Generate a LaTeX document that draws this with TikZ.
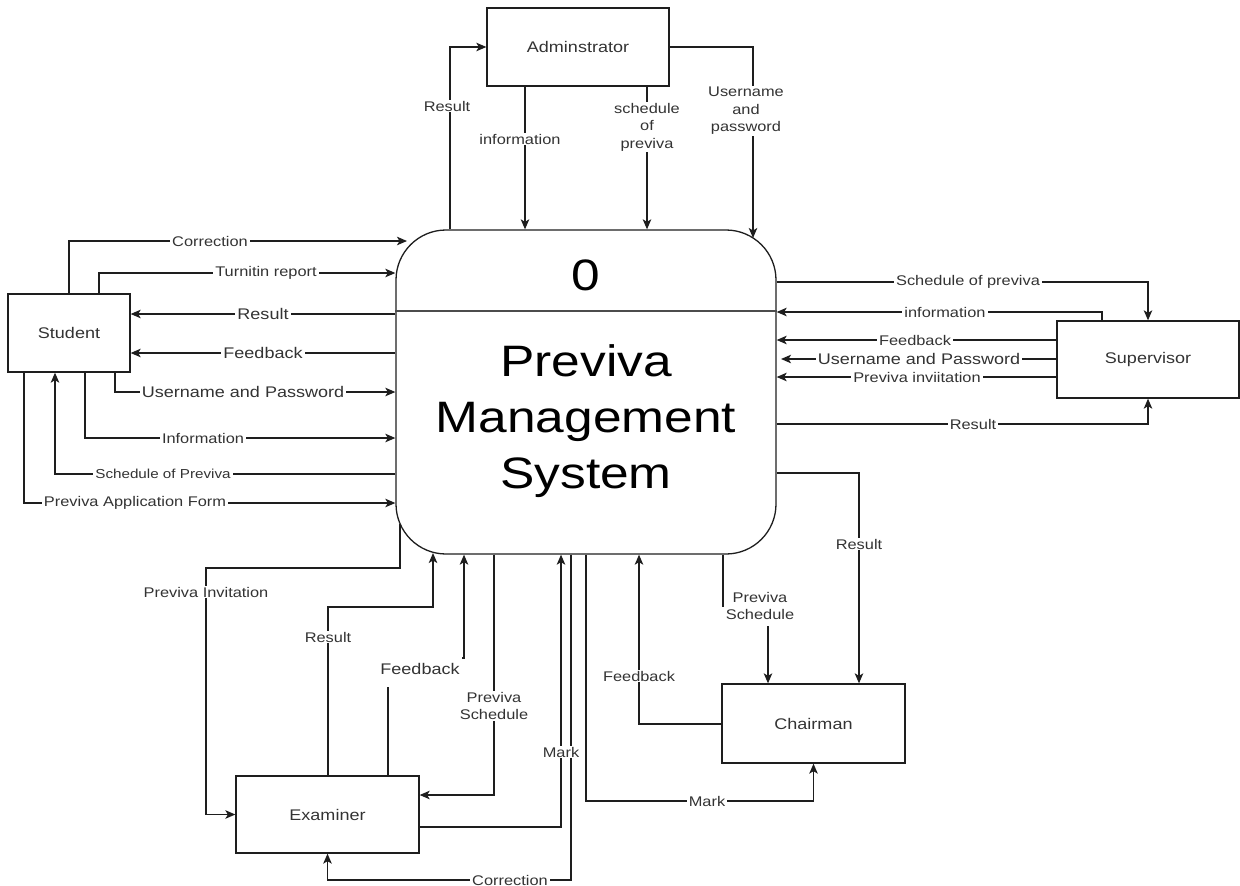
\documentclass[tikz,border=0pt]{standalone}
\usepackage{fontspec}
\setmainfont{Liberation Sans}[FakeStretch=1.17]
\usetikzlibrary{arrows.meta}
\definecolor{ink}{HTML}{1E1E1E}
\definecolor{txt}{HTML}{333333}
\tikzset{
  entity/.style={draw=ink, line width=1.3pt, text=txt, inner sep=0pt,
    font=\fontsize{15.4}{18}\selectfont},
  flow/.style={draw=ink, line width=1.3pt,
    -{Stealth[length=10pt,width=8.5pt,inset=2.5pt]}},
  lab/.style={fill=white, inner xsep=2pt, inner ysep=1pt, text=txt,
    align=center, font=\fontsize{14}{17.5}\selectfont},
  labbig/.style={lab, font=\fontsize{15.4}{18}\selectfont},
  labsmall/.style={lab, font=\fontsize{13}{15}\selectfont},
}
\begin{document}
\begin{tikzpicture}[x=1pt, y=-1pt]
\useasboundingbox (0,0) rectangle (1240,886);

% --- process and external entities ---
\node[draw=ink, line width=1.3pt, rounded corners=50pt,
      minimum width=380pt, minimum height=324pt] (sys) at (586,392) {};
\draw[draw=black!70, line width=1.3pt] (sys.west |- 0,311) -- (sys.east |- 0,311);
\node[anchor=base, font=\fontsize{44}{56}\selectfont] (num) at (586,290) {0};
\node[align=center, font=\fontsize{44}{56}\selectfont] (title) at (586,421)
  {Previva\\Management\\System};

\node[entity, minimum width=182pt, minimum height=78pt] (adm) at (578,47) {Adminstrator};
\node[entity, minimum width=122pt, minimum height=78pt] (stu) at (69,333) {Student};
\node[entity, minimum width=182pt, minimum height=77pt] (sup) at (1148,359.5) {Supervisor};
\node[entity, minimum width=183pt, minimum height=77pt] (exa) at (327.5,814.5) {Examiner};
\node[entity, minimum width=183pt, minimum height=79pt] (cha) at (813.5,723.5) {Chairman};

% --- administrator flows ---
\draw[flow] (450,0 |- sys.north) |- (adm.west);
\draw[flow] (525,0 |- adm.south) -- (525,0 |- sys.north);
\draw[flow] (647,0 |- adm.south) -- (647,0 |- sys.north);
\draw[flow] (adm.east) -| (753,238);

% --- student flows ---
\draw[flow] (69,0 |- stu.north) |- (407,241);
\draw[flow] (99,0 |- stu.north) |- (sys.west |- 0,273);
\draw[flow] (sys.west |- 0,314) -- (stu.east |- 0,314);
\draw[flow] (sys.west |- 0,353) -- (stu.east |- 0,353);
\draw[flow] (115,0 |- stu.south) |- (sys.west |- 0,392);
\draw[flow] (85,0 |- stu.south) |- (sys.west |- 0,438);
\draw[flow] (sys.west |- 0,474) -| (55,0 |- stu.south);
\draw[flow] (24,0 |- stu.south) |- (sys.west |- 0,503);

% --- supervisor flows ---
\draw[flow] (sys.east |- 0,282) -| (sup.north);
\draw[flow] (1102,0 |- sup.north) |- (sys.east |- 0,312);
\draw[flow] (sup.west |- 0,340) -- (sys.east |- 0,340);
\draw[flow] (sup.west |- 0,359) -- (781,359);
\draw[flow] (sup.west |- 0,377) -- (sys.east |- 0,377);
\draw[flow] (sys.east |- 0,424) -| (sup.south);

% --- examiner flows ---
\draw[flow] (400,524) |- (206,568) |- (exa.west);
\draw[flow] (328,0 |- exa.north) |- (433,607) -- (433,553);
\draw[flow] (388,0 |- exa.north) |- (464,658) -- (464,0 |- sys.south);
\draw[flow] (494,0 |- sys.south) |- (exa.east |- 0,795);
\draw[flow] (exa.east |- 0,827) -| (561,0 |- sys.south);
\draw[flow] (571,0 |- sys.south) |- (exa.south |- 0,880) -- (exa.south);

% --- chairman flows ---
\draw[flow] (586,0 |- sys.south) |- (cha.south |- 0,801) -- (cha.south);
\draw[flow] (cha.west |- 0,724) -| (639,0 |- sys.south);
\draw[flow] (723,0 |- sys.south) |- (768,606) -- (768,0 |- cha.north);
\draw[flow] (sys.east |- 0,473) -| (859,0 |- cha.north);

% --- flow labels ---
\node[lab] (l1) at (447,106) {Result};
\node[lab] (l2) at (520,139) {information};
\node[lab] (l3) at (647,127) {schedule\\of\\previva};
\node[lab] (l4) at (746,111) {Username\\and\\password};

\node[lab] (l5) at (210,241) {Correction};
\node[lab] (l6) at (266,273) {Turnitin report};
\node[labbig] (l7) at (263,314) {Result};
\node[labbig] (l8) at (263,353) {Feedback};
\node[labbig] (l9) at (243,392) {Username and Password};
\node[lab] (l10) at (203,438) {Information};
\node[labsmall] (l11) at (163,474) {Schedule of Previva};
\node[lab] (l12) at (135,503) {Previva Application Form};

\node[lab] (l13) at (968,282) {Schedule of previva};
\node[lab] (l14) at (945,312) {information};
\node[lab] (l15) at (915,340) {Feedback};
\node[labbig] (l16) at (919,359) {Username and Password};
\node[lab] (l17) at (917,377) {Previva inviitation};
\node[lab] (l18) at (973,424) {Result};

\node[lab] (l19) at (206,592) {Previva Invitation};
\node[lab] (l20) at (328,637) {Result};
\node[labbig, minimum height=36pt] (l21) at (420,669) {Feedback};
\node[lab] (l22) at (494,706) {Previva\\Schedule};
\node[lab] (l23) at (561,752) {Mark};
\node[lab] (l24) at (510,880) {Correction};

\node[lab] (l25) at (707,801) {Mark};
\node[lab] (l26) at (639,676) {Feedback};
\node[lab, minimum height=40pt] (l27) at (760,606) {Previva\\Schedule};
\node[lab] (l28) at (859,544) {Result};
\end{tikzpicture}
\end{document}
